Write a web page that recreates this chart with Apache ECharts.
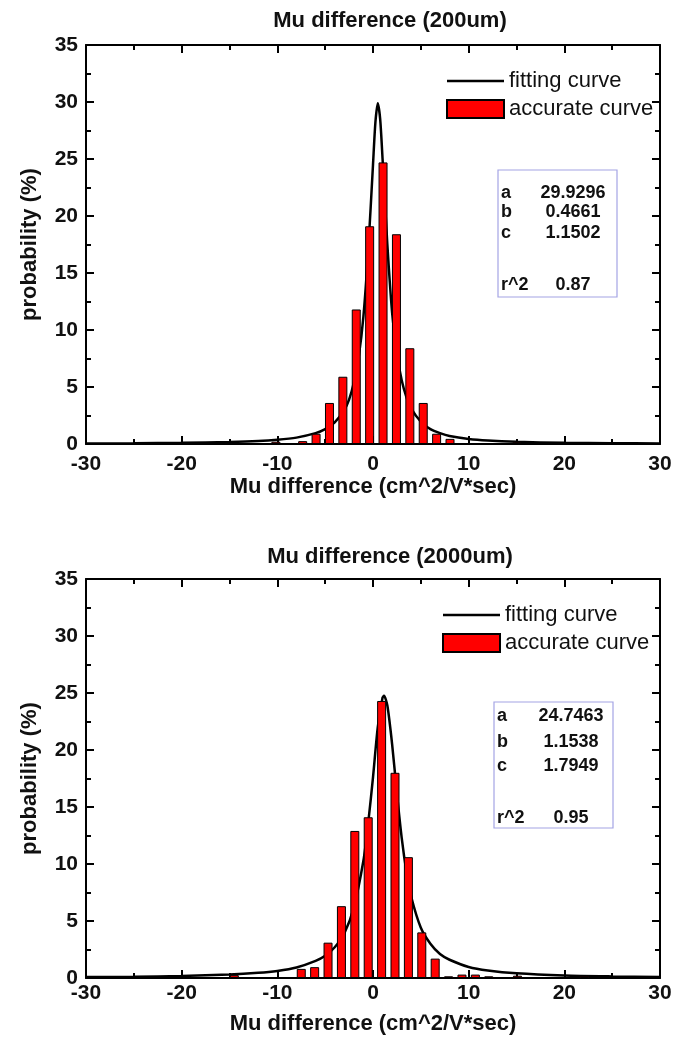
<!DOCTYPE html>
<html><head><meta charset="utf-8">
<script src="https://cdn.jsdelivr.net/npm/echarts@6/dist/echarts.min.js"></script>
<style>html,body{margin:0;padding:0;background:#fff}#c{width:677px;height:1041px}</style>
</head><body><div id="c"></div>
<script>
const titles = ['Mu difference (200um)', 'Mu difference (2000um)'];
const xName = 'Mu difference (cm^2/V*sec)';
const yName = 'probability (%)';
const legendNames = ['fitting curve', 'accurate curve'];

// top panel (200um)
const barX1 = [-10.15, -7.35, -5.95, -4.55, -3.15, -1.75, -0.35, 1.05, 2.45, 3.85, 5.25, 6.65, 8.05, 15.05];
const barY1 = [0.2, 0.25, 0.9, 3.6, 5.9, 11.8, 19.1, 24.7, 18.4, 8.4, 3.6, 0.9, 0.45, 0.15];
const fitX1 = [-30, -25, -20, -15, -12, -10, -8, -6, -5, -4, -3, -2.5, -2, -1.5, -1, -0.5, 0, 0.25, 0.5, 0.75, 1, 1.5, 2, 2.5, 3, 3.5, 4, 5, 6, 7, 8, 10, 12, 15, 20, 25, 30];
const fitY1 = [0.04, 0.06, 0.1, 0.18, 0.26, 0.37, 0.56, 0.95, 1.3, 1.9, 3.0, 3.9, 5.4, 7.6, 11.2, 17.0, 24.5, 28.2, 29.9, 28.5, 25.0, 17.5, 11.5, 7.9, 5.6, 4.1, 3.1, 1.95, 1.3, 0.95, 0.7, 0.44, 0.3, 0.19, 0.1, 0.07, 0.05];
const statValues1 = ['29.9296', '0.4661', '1.1502', '0.87'];

// bottom panel (2000um)
const barX2 = [-14.5, -7.5, -6.1, -4.7, -3.3, -1.9, -0.5, 0.9, 2.3, 3.7, 5.1, 6.5, 7.9, 9.3, 10.7, 12.1, 15.1, 22.1];
const barY2 = [0.25, 0.8, 0.95, 3.1, 6.3, 12.9, 14.1, 24.3, 18.0, 10.6, 4.0, 1.7, 0.15, 0.3, 0.3, 0.15, 0.2, 0.15];
const fitX2 = [-30, -25, -20, -15, -12, -10, -8, -6, -5, -4, -3, -2, -1, -0.5, 0, 0.5, 1, 1.15, 1.5, 2, 2.5, 3, 3.5, 4, 5, 6, 7, 8, 10, 12, 15, 20, 25, 30];
const fitY2 = [0.08, 0.11, 0.18, 0.3, 0.45, 0.62, 0.92, 1.5, 1.95, 2.7, 3.9, 6.2, 10.3, 13.6, 17.6, 22.0, 24.6, 24.75, 23.9, 20.5, 16.2, 12.3, 9.3, 7.1, 4.4, 3.0, 2.1, 1.6, 0.97, 0.66, 0.41, 0.22, 0.14, 0.09];
const statValues2 = ['24.7463', '1.1538', '1.7949', '0.95'];

const statLabels = ['a', 'b', 'c', 'r^2'];

const FF = '"Liberation Sans", Arial, sans-serif';
const TXT = '#111';

function pairs(xs, ys) { return xs.map((x, i) => [x, ys[i]]); }

function xAxes(gi, margin, nameGap) {
  const base = {
    gridIndex: gi, type: 'value', min: -30, max: 30, interval: 10,
    axisLine: { onZero: false, lineStyle: { color: '#000', width: 2 } },
    axisTick: { inside: true, length: 8, lineStyle: { color: '#000', width: 2 } },
    minorTick: { show: true, splitNumber: 2, length: 5, lineStyle: { color: '#000', width: 2 } },
    splitLine: { show: false }, minorSplitLine: { show: false }
  };
  return [
    Object.assign({}, base, {
      position: 'bottom',
      axisLabel: { margin, fontSize: 21, fontWeight: 'bold', color: TXT, fontFamily: FF, showMinLabel: true, showMaxLabel: true },
      name: xName, nameLocation: 'middle', nameGap,
      nameTextStyle: { fontSize: 22, fontWeight: 'bold', color: TXT, fontFamily: FF }
    }),
    Object.assign({}, base, { position: 'top', axisLabel: { show: false } })
  ];
}
function yAxes(gi) {
  const base = {
    gridIndex: gi, type: 'value', min: 0, max: 35, interval: 5,
    axisLine: { onZero: false, lineStyle: { color: '#000', width: 2 } },
    axisTick: { inside: true, length: 8, lineStyle: { color: '#000', width: 2 } },
    minorTick: { show: true, splitNumber: 2, length: 5, lineStyle: { color: '#000', width: 2 } },
    splitLine: { show: false }, minorSplitLine: { show: false }
  };
  return [
    Object.assign({}, base, {
      position: 'left',
      axisLabel: { margin: 8, fontSize: 21, fontWeight: 'bold', color: TXT, fontFamily: FF, showMinLabel: true, showMaxLabel: true },
      name: yName, nameLocation: 'middle', nameGap: 45,
      nameTextStyle: { fontSize: 22, fontWeight: 'bold', color: TXT, fontFamily: FF }
    }),
    Object.assign({}, base, { position: 'right', axisLabel: { show: false } })
  ];
}

function seriesFor(ai, bx, by, fx, fy) {
  return [
    {
      type: 'line', name: legendNames[0], xAxisIndex: ai, yAxisIndex: ai,
      data: pairs(fx, fy), symbol: 'none', smooth: 0.25,
      lineStyle: { color: '#000', width: 2.5 }, itemStyle: { color: '#000' }, z: 2
    },
    {
      type: 'bar', name: legendNames[1], xAxisIndex: ai, yAxisIndex: ai,
      data: pairs(bx, by), barWidth: 9,
      itemStyle: { color: '#ff0000', borderColor: '#000', borderWidth: 1 }, z: 3
    }
  ];
}

function statBox(x, y, w, h, rows, labelX, valueCX, values) {
  const els = [{
    type: 'rect', shape: { x, y, width: w, height: h },
    style: { fill: '#fff', stroke: '#a4a4e4', lineWidth: 1.2 }, z: 10
  }];
  rows.forEach((ry, i) => {
    els.push({ type: 'text', x: labelX, y: ry, z: 11,
      style: { text: statLabels[i], fill: TXT, font: 'bold 18px ' + FF, textAlign: 'left', textVerticalAlign: 'middle' } });
    els.push({ type: 'text', x: valueCX, y: ry, z: 11,
      style: { text: values[i], fill: TXT, font: 'bold 18px ' + FF, textAlign: 'center', textVerticalAlign: 'middle' } });
  });
  return els;
}

function legendFor(left, top) {
  return {
    data: [
      { name: legendNames[0], icon: 'path://M0,0 L60,0 L60,2.6 L0,2.6 Z' },
      { name: legendNames[1], icon: 'rect' }
    ],
    orient: 'vertical', left, top, itemWidth: 57, itemHeight: 18, itemGap: 6,
    selectedMode: false,
    textStyle: { fontSize: 22, color: TXT, fontFamily: FF }
  };
}

const chart = echarts.init(document.getElementById('c'), null, { renderer: 'canvas' });
chart.setOption({
  animation: false,
  backgroundColor: '#fff',
  title: [
    { text: titles[0], left: 385, top: 5, textAlign: 'center',
      textStyle: { fontSize: 22, fontWeight: 'bold', color: TXT, fontFamily: FF } },
    { text: titles[1], left: 385, top: 541, textAlign: 'center',
      textStyle: { fontSize: 22, fontWeight: 'bold', color: TXT, fontFamily: FF } }
  ],
  grid: [
    { left: 86, width: 574, top: 45, height: 399 },
    { left: 86, width: 574, top: 579, height: 399 }
  ],
  legend: [legendFor(441, 65), legendFor(437, 599)],
  xAxis: [].concat(xAxes(0, 10, 32), xAxes(1, 5, 35)),
  yAxis: [].concat(yAxes(0), yAxes(1)),
  series: [].concat(
    seriesFor(0, barX1, barY1, fitX1, fitY1),
    seriesFor(2, barX2, barY2, fitX2, fitY2)
  ),
  graphic: [].concat(
    statBox(498, 170, 119, 127, [193, 212, 233, 285], 501, 573, statValues1),
    statBox(494, 702, 119, 126, [716, 742, 766, 818], 497, 571, statValues2)
  )
});
</script>
</body></html>
